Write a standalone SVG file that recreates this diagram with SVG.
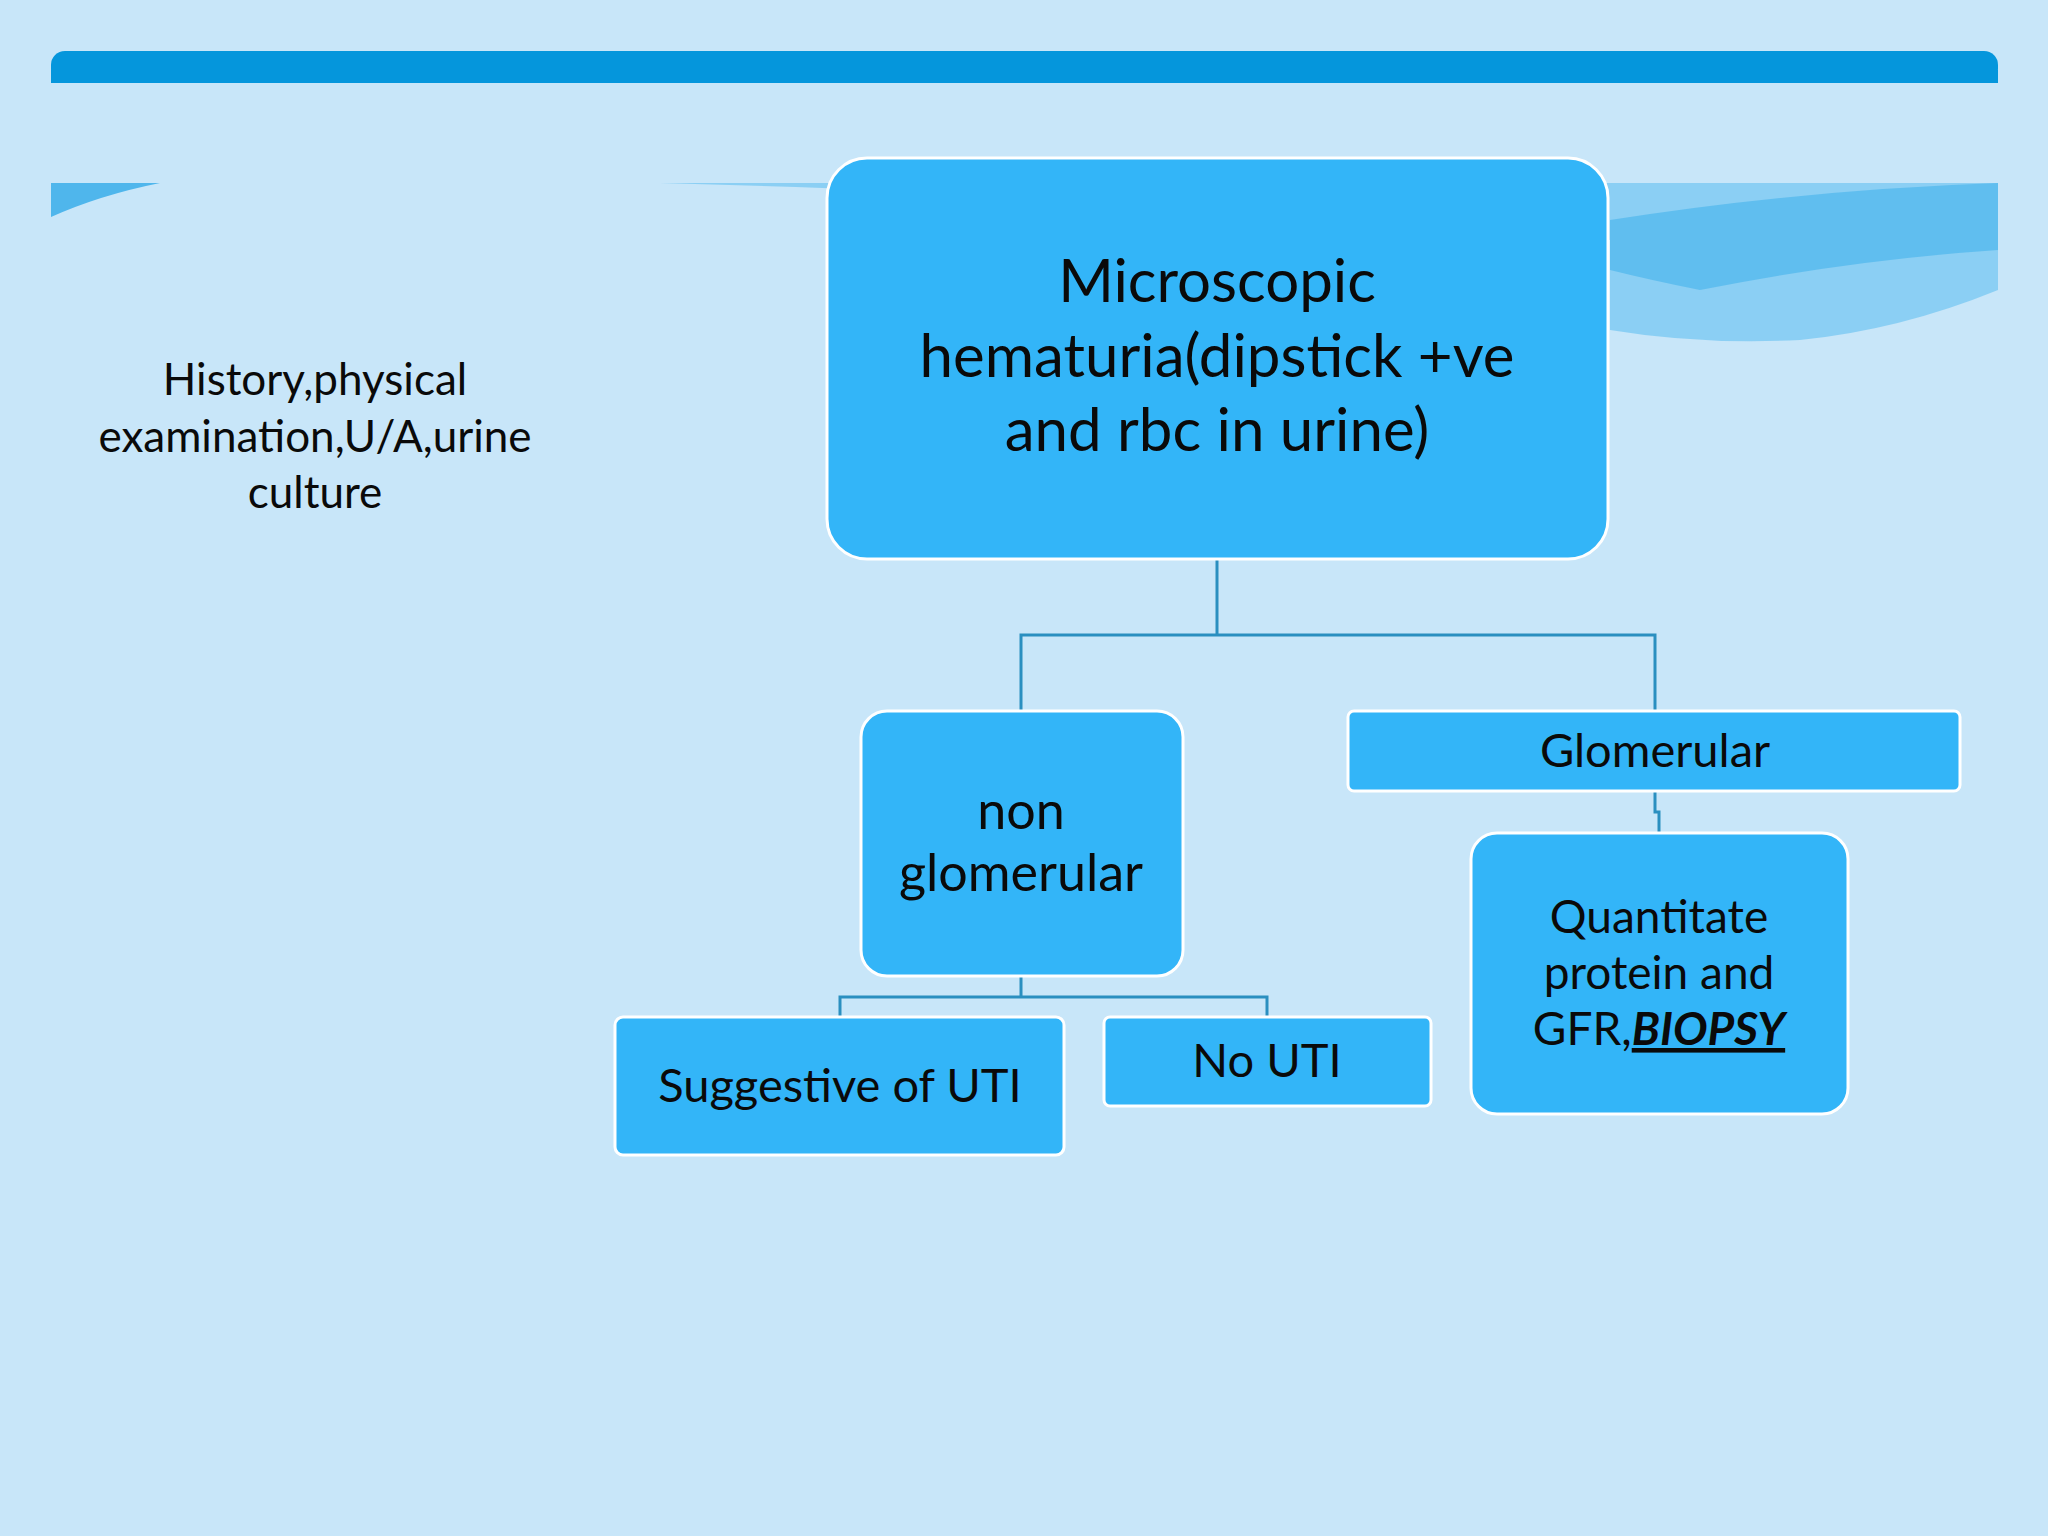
<svg xmlns="http://www.w3.org/2000/svg" width="2048" height="1536" viewBox="0 0 2048 1536">
<style>
.box{fill:#33b5f8;stroke:#ffffff;stroke-width:3}
.t{font-family:Lato,"Open Sans",sans-serif;fill:#0a0a0a;text-anchor:middle}
.c{fill:none;stroke:#2a8fc0;stroke-width:3}
</style>
<rect width="2048" height="1536" fill="#c8e6f9"/>
<rect x="51" y="51" width="1947" height="32" rx="14" fill="#0596dc"/>
<rect x="51" y="70" width="1947" height="13" fill="#0596dc"/>
<g id="waves">
<path d="M51,183 L160,183 Q100,195 51,217 Z" fill="#4fb6ec"/>
<path d="M660,183 L1998,183 L1998,290 Q1900,330 1800,340 Q1700,345 1610,330 L1610,240 Q1300,200 660,183 Z" fill="#7cc9f2" opacity="0.8"/>
<path d="M1610,220 Q1800,190 1998,183 L1998,250 Q1850,260 1700,290 Q1650,280 1610,270 Z" fill="#4fb6ec" opacity="0.7"/>
</g>
<g id="connectors">
<path class="c" d="M1217,559 V635 M1021,711 V635 H1655 V711"/>
<path class="c" d="M1655,791 V812 H1659 V833"/>
<path class="c" d="M1021,976 V997 M840,1017 V997 H1267 V1017"/>
</g>
<g id="left">
<text class="t" font-size="44"><tspan x="315" y="395">History,physical</tspan><tspan x="315" y="452">examination,U/A,urine</tspan><tspan x="315" y="508">culture</tspan></text>
</g>
<g id="main">
<rect class="box" x="827" y="158" width="781" height="401" rx="40"/>
<text class="t" font-size="60"><tspan x="1217" y="302">Microscopic</tspan><tspan x="1217" y="377">hematuria(dipstick +ve</tspan><tspan x="1217" y="451">and rbc in urine)</tspan></text>
</g>
<g id="nonglom">
<rect class="box" x="861" y="711" width="322" height="265" rx="26"/>
<text class="t" font-size="52"><tspan x="1021" y="829">non</tspan><tspan x="1021" y="891">glomerular</tspan></text>
</g>
<g id="glom">
<rect class="box" x="1348" y="711" width="612" height="80" rx="6"/>
<text class="t" font-size="47" x="1655" y="767">Glomerular</text>
</g>
<g id="quant">
<rect class="box" x="1471" y="833" width="377" height="281" rx="26"/>
<text class="t" font-size="46"><tspan x="1659" y="933">Quantitate</tspan><tspan x="1659" y="989">protein and</tspan><tspan x="1659" y="1045">GFR,<tspan font-weight="bold" font-style="italic" text-decoration="underline">BIOPSY</tspan></tspan></text>
</g>
<g id="uti">
<rect class="box" x="615" y="1017" width="449" height="138" rx="8"/>
<text class="t" font-size="47" x="840" y="1102">Suggestive of UTI</text>
</g>
<g id="nouti">
<rect class="box" x="1104" y="1017" width="327" height="89" rx="6"/>
<text class="t" font-size="47" x="1267" y="1077">No UTI</text>
</g>
</svg>
